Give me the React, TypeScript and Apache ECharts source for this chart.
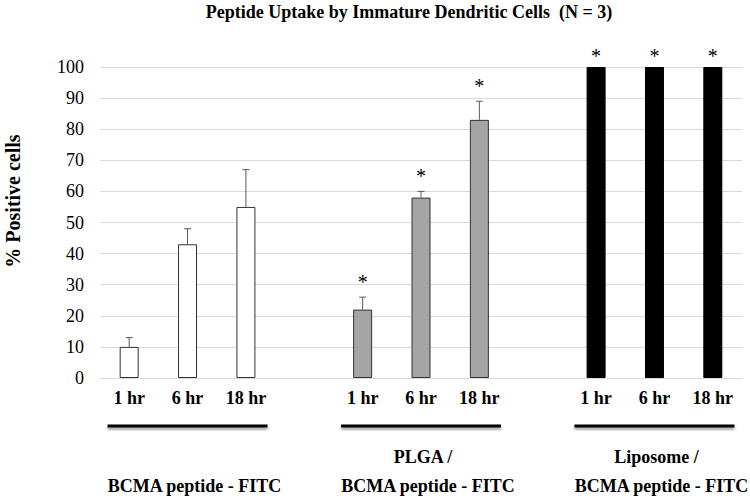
import React, { useEffect, useRef } from 'react';
import * as echarts from 'echarts';

const titleText = 'Peptide Uptake by Immature Dendritic Cells  (N = 3)';
const yAxisTitle = '% Positive cells';
const timeLabels = ['1 hr', '6 hr', '18 hr'];
const groupTopLabels = ['', 'PLGA /', 'Liposome /'];
const groupBottomLabels = ['BCMA peptide - FITC', 'BCMA peptide - FITC', 'BCMA peptide - FITC'];

const freePeptideValues = [10, 43, 55];
const freePeptideErrors = [3, 5, 12];
const freePeptideSignificant = [false, false, false];

const plgaValues = [22, 58, 83];
const plgaErrors = [4, 2, 6];
const plgaSignificant = [true, true, true];

const liposomeValues = [100, 100, 100];
const liposomeErrors = [0, 0, 0];
const liposomeSignificant = [true, true, true];

const yMin = 0;
const yMax = 100;
const yInterval = 10;

const groupFills = ['#ffffff', '#a5a5a5', '#000000'];
const FONT = 'Liberation Serif';

const textStyle = (text: string, size: number, bold: boolean) => ({
  text,
  textAlign: 'center',
  textVerticalAlign: 'middle',
  fontFamily: FONT,
  fontWeight: bold ? 'bold' : 'normal',
  fontSize: size,
  fill: '#000000',
});

export default function App() {
  const ref = useRef<HTMLDivElement>(null);

  useEffect(() => {
    if (!ref.current) return;
    const chart = echarts.init(ref.current, undefined, { renderer: 'svg' });

    const groups = [
      { values: freePeptideValues, errors: freePeptideErrors, sig: freePeptideSignificant },
      { values: plgaValues, errors: plgaErrors, sig: plgaSignificant },
      { values: liposomeValues, errors: liposomeErrors, sig: liposomeSignificant },
    ];

    const categoryIds: string[] = [];
    const categoryLabels: string[] = [];
    const barData: any[] = [];
    const errData: any[] = [];
    const groupSlots: number[][] = [];
    groups.forEach((g, gi) => {
      const slots: number[] = [];
      timeLabels.forEach((t, ti) => {
        const idx = categoryIds.length;
        categoryIds.push(`g${gi}-t${ti}`);
        categoryLabels.push(t);
        slots.push(idx);
        barData.push({
          value: g.values[ti],
          itemStyle: {
            color: groupFills[gi],
            borderColor: gi === 2 ? '#000000' : '#333333',
            borderWidth: 1,
          },
        });
        errData.push([idx, g.values[ti], g.errors[ti], g.sig[ti] ? 1 : 0]);
      });
      groupSlots.push(slots);
      if (gi < groups.length - 1) {
        categoryIds.push(`gap${gi}`);
        categoryLabels.push('');
        barData.push('-');
      }
    });

    chart.setOption({
      animation: false,
      backgroundColor: '#ffffff',
      grid: { left: 100, right: 8, top: 67, bottom: 122, containLabel: false },
      xAxis: {
        type: 'category',
        data: categoryIds,
        axisTick: { show: false },
        axisLine: { show: true, lineStyle: { color: '#d9d9d9', width: 1 } },
        axisLabel: {
          interval: 0,
          margin: 11,
          formatter: (_v: string, i: number) => categoryLabels[i],
          fontFamily: FONT,
          fontWeight: 'bold',
          fontSize: 18,
          color: '#000000',
        },
      },
      yAxis: {
        type: 'value',
        min: yMin,
        max: yMax,
        interval: yInterval,
        axisLine: { show: false },
        axisTick: { show: false },
        splitLine: { lineStyle: { color: '#d9d9d9', width: 1 } },
        axisLabel: { fontFamily: FONT, fontSize: 18, color: '#000000', margin: 16 },
      },
      series: [
        {
          type: 'bar',
          data: barData,
          barWidth: 19,
        },
        {
          type: 'custom',
          data: errData,
          encode: { x: 0, y: 1 },
          z: 5,
          renderItem: (_params: any, api: any) => {
            const x = api.value(0);
            const v = api.value(1);
            const e = api.value(2);
            const s = api.value(3);
            const base = api.coord([x, v]);
            const top = api.coord([x, v + e]);
            const children: any[] = [];
            if (e > 0) {
              children.push({
                type: 'line',
                shape: { x1: base[0], y1: base[1], x2: top[0], y2: top[1] },
                style: { stroke: '#595959', lineWidth: 1 },
              });
              children.push({
                type: 'line',
                shape: { x1: top[0] - 3.5, y1: top[1], x2: top[0] + 3.5, y2: top[1] },
                style: { stroke: '#595959', lineWidth: 1 },
              });
            }
            if (s) {
              children.push({
                type: 'text',
                style: {
                  ...textStyle('*', 20, false),
                  x: top[0],
                  y: top[1] - (e > 0 ? 18 : 14) + 3,
                },
              });
            }
            return { type: 'group', children };
          },
        },
      ],
    });

    const elements: any[] = [
      {
        type: 'text',
        x: 409,
        y: 12,
        style: textStyle(titleText, 18, true),
      },
      {
        type: 'text',
        x: 13,
        y: 201,
        rotation: Math.PI / 2,
        style: textStyle(yAxisTitle, 20, true),
      },
    ];

    groupSlots.forEach((slots, gi) => {
      const mid = chart.convertToPixel({ xAxisIndex: 0 }, categoryIds[slots[1]]) as number;
      elements.push({
        type: 'rect',
        shape: { x: mid - 80, y: 424.5, width: 160, height: 3 },
        style: {
          fill: '#000000',
          shadowBlur: 3,
          shadowColor: 'rgba(0,0,0,0.45)',
          shadowOffsetY: 2,
        },
      });
      if (groupTopLabels[gi]) {
        elements.push({
          type: 'text',
          x: mid + 2,
          y: 457,
          style: textStyle(groupTopLabels[gi], 18, true),
        });
      }
      elements.push({
        type: 'text',
        x: mid + 7,
        y: 486,
        style: textStyle(groupBottomLabels[gi], 18, true),
      });
    });

    chart.setOption({ graphic: elements });

    return () => chart.dispose();
  }, []);

  return (
    <div
      ref={ref}
      style={{ position: 'fixed', left: 0, top: 0, width: 750, height: 500, background: '#fff' }}
    />
  );
}
